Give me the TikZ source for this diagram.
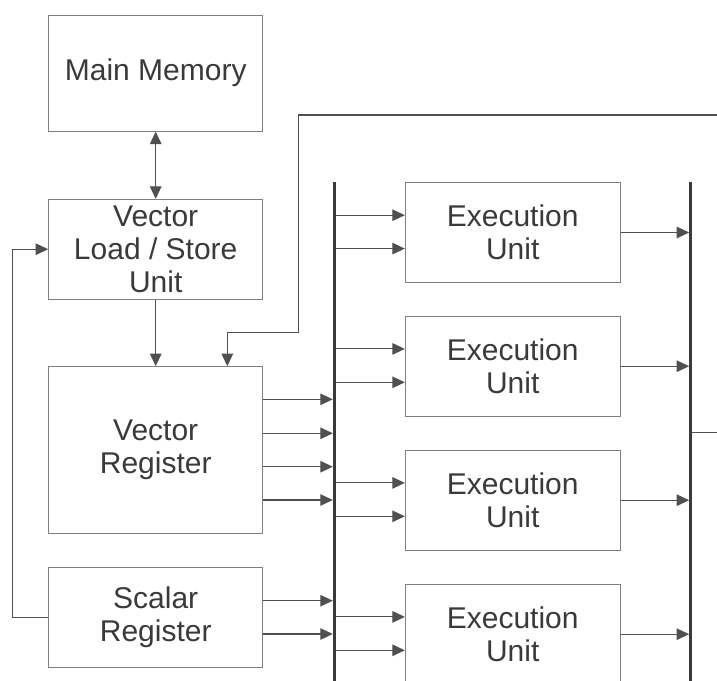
\documentclass[tikz,border=0pt]{standalone}
\usepackage{fontspec}
\setmainfont{Liberation Sans}
\usetikzlibrary{arrows.meta,calc}
\definecolor{boxc}{RGB}{128,128,128}
\definecolor{linec}{RGB}{80,80,78}
\definecolor{ink}{RGB}{58,58,56}
\begin{document}
\begin{tikzpicture}[x=1pt,y=-1pt,
  tip/.tip={Triangle[length=12.5pt,width=11.5pt]},
  blk/.style={draw=boxc, line width=1pt, fill=white, inner sep=0pt, align=center,
    text=ink, font=\fontsize{30}{33.3}\selectfont},
  conn/.style={draw=linec, line width=1.1pt, -tip},
  bus/.style={draw=ink, line width=3pt}]
\clip (0,0) rectangle (717,680);
% left column
\node[blk, minimum width=214pt, minimum height=115.7pt] (mm) at (155.7,73.2) {Main Memory};
\node[blk, minimum width=214pt, minimum height=99.7pt] (vls) at (155.7,249.2) {Vector\\Load / Store\\Unit};
\node[blk, minimum width=214pt, minimum height=166.6pt] (vr) at (155.7,450) {Vector\\Register};
\node[blk, minimum width=214pt, minimum height=100pt] (sr) at (155.7,617.3) {Scalar\\Register};
% execution units
\node[blk, minimum width=214.7pt, minimum height=100.4pt] (eu1) at (512.7,232.5) {Execution\\Unit};
\node[blk, minimum width=214.7pt, minimum height=100.4pt] (eu2) at (512.7,366.2) {Execution\\Unit};
\node[blk, minimum width=214.7pt, minimum height=100.4pt] (eu3) at (512.7,500.2) {Execution\\Unit};
\node[blk, minimum width=214.7pt, minimum height=100.4pt] (eu4) at (512.7,634.2) {Execution\\Unit};
% bus coordinates
\coordinate (lbt) at (334.3,182.3);
\coordinate (lbb) at (334.3,700);
\coordinate (rbt) at (690.7,182.3);
\coordinate (rbb) at (690.7,700);
\coordinate (topR) at (720,115);
\coordinate (rext) at (720,432.7);
% memory <-> load/store
\draw[conn, tip-tip] (mm.south) -- (vls.north);
\draw[conn] (vls.south) -- (vr.north);
% scalar feedback
\draw[conn] (sr.west) -- ++(-35.4,0) |- (vls.west);
% top loop into vector register
\draw[conn] (topR) -- (298.7,115) -- (298.7,332.7) -- (227.3,332.7) -- (227.3,366.2);
% register outputs to left bus
\foreach \y in {399.3,433.3,466.7,500,600.7,634}
  \draw[conn] (vr.east |- 0,\y) -- (332.8,\y);
% left bus to execution units
\foreach \n in {eu1,eu2,eu3,eu4}{
  \draw[conn] ($(lbt |- \n.north)+(0,33.4)$) -- ($(\n.north west)+(0,33.4)$);
  \draw[conn] ($(lbt |- \n.north)+(0,66.8)$) -- ($(\n.north west)+(0,66.8)$);
}
% execution units to right bus
\foreach \n in {eu1,eu2,eu3,eu4}
  \draw[conn] (\n.east) -- (689.2,0 |- \n.east);
% right bus extension
\draw[draw=linec, line width=1.1pt] (rbt |- rext) -- (rext);
% buses
\draw[bus] (lbt) -- (lbb);
\draw[bus] (rbt) -- (rbb);
\end{tikzpicture}
\end{document}
